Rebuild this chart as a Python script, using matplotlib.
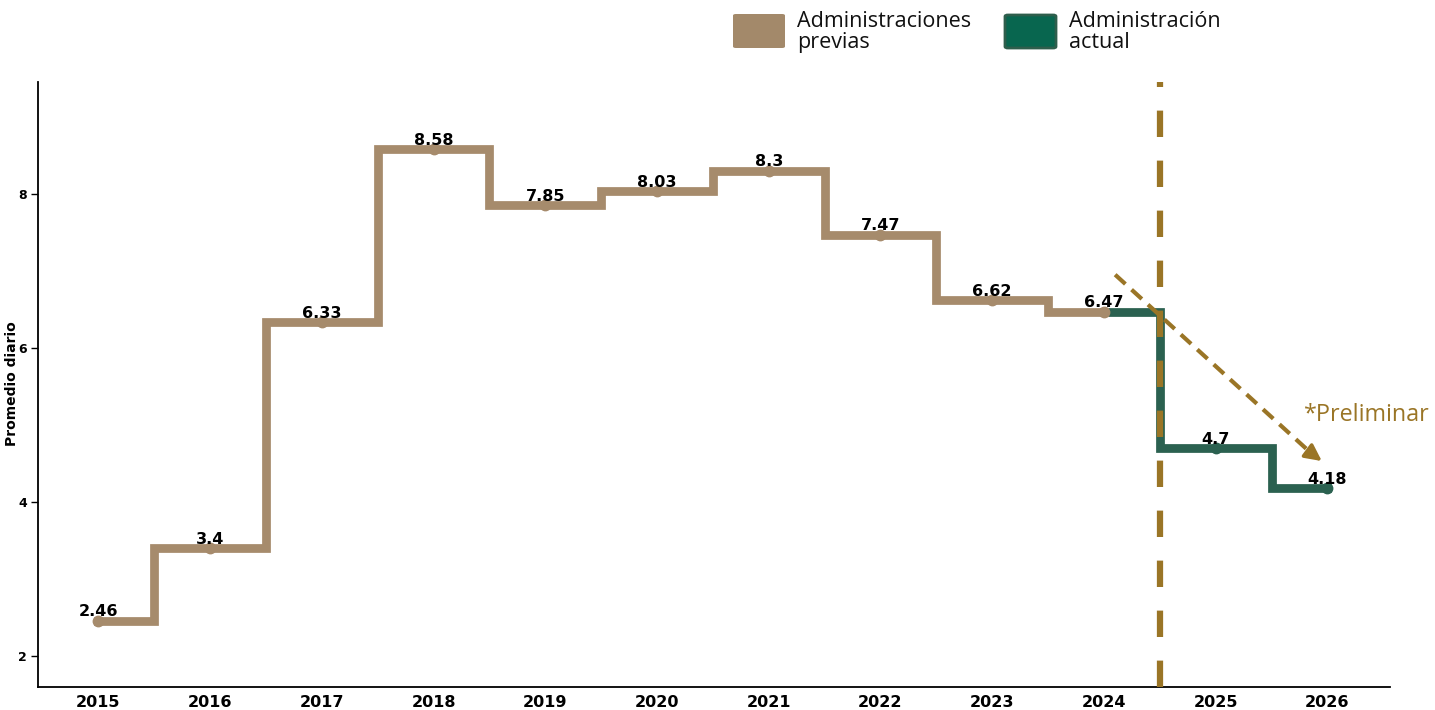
import matplotlib
matplotlib.use("Agg")
import matplotlib.pyplot as plt
from matplotlib.patches import FancyBboxPatch

plt.rcParams['lines.scale_dashes'] = False

years_prev = [2015, 2016, 2017, 2018, 2019, 2020, 2021, 2022, 2023, 2024]
vals_prev = [2.46, 3.4, 6.33, 8.58, 7.85, 8.03, 8.3, 7.47, 6.62, 6.47]
years_curr = [2024, 2025, 2026]
vals_curr = [6.47, 4.7, 4.18]
labels_curr = ["", "4.7", "4.18"]
yticks = [2, 4, 6, 8]

brown = "#A68B6C"
green = "#2B6150"
gold = "#9A7526"
legend_green = "#08664F"

fig = plt.figure(figsize=(14.35, 7.10), dpi=100)
fig.patch.set_facecolor("white")
ax = fig.add_axes([38/1435, 1 - 687/710, (1390-38)/1435, (687-82)/710])
ax.set_facecolor("none")

ax.step(years_curr, vals_curr, where="mid", color=green, lw=6.3, solid_joinstyle="miter", zorder=3)
ax.step(years_prev, vals_prev, where="mid", color=brown, lw=6.3, solid_joinstyle="miter", zorder=4)
ax.plot(years_prev, vals_prev, "o", color=brown, ms=7.5, zorder=5)
ax.plot(years_curr[1:], vals_curr[1:], "o", color=green, ms=7.5, zorder=5)

ax.axvline(2024.5, color=gold, lw=4.5, dashes=(19, 17), zorder=6)

lab_font = dict(fontsize=11.5, fontweight="bold", color="black", family="DejaVu Sans")
for x, v in zip(years_prev, vals_prev):
    ax.annotate(f"{v:g}", (x, v), xytext=(0, 1), textcoords="offset points",
                ha="center", va="bottom", zorder=7, **lab_font)
for x, v, l in zip(years_curr, vals_curr, labels_curr):
    if l:
        ax.annotate(l, (x, v), xytext=(0, 1), textcoords="offset points",
                    ha="center", va="bottom", zorder=7, **lab_font)

# trend arrow
ax.plot([2024.10, 2025.88], [6.95, 4.60], color=gold, lw=3.0, dashes=(10, 6), zorder=6)
ax.annotate("", xy=(2025.97, 4.51), xytext=(2025.83, 4.66),
            arrowprops=dict(arrowstyle="-|>,head_length=1.0,head_width=0.5", color=gold, lw=2.5),
            zorder=6)
fig.text(1304/1435, 1 - 415/710, "*Preliminar", color=gold, fontsize=16.8, family="Open Sans",
         ha="left", va="center", zorder=7)

ax.set_xlim(2014.46, 2026.56)
ax.set_ylim(1.6, 9.45)
ax.set_xticks(years_prev + years_curr[1:])
ax.set_xticklabels([str(y) for y in years_prev + years_curr[1:]], fontsize=11.5, fontweight="bold")
ax.set_yticks(yticks)
ax.set_yticklabels([str(t) for t in yticks], fontsize=9, fontweight="bold")
ax.tick_params(axis="x", length=0, pad=6)
ax.tick_params(axis="y", length=5, width=1, pad=3)
fig.text(12/1435, 1 - 384/710, "Promedio diario", fontsize=10, fontweight="bold",
         rotation=90, ha="center", va="center")
for s in ["top", "right"]:
    ax.spines[s].set_visible(False)
for s in ["left", "bottom"]:
    ax.spines[s].set_linewidth(1.3)

# legend
fig.patches.append(FancyBboxPatch((733/1435, 1 - 48/710), 52/1435, 34/710,
                                  boxstyle="round,pad=0,rounding_size=0.002",
                                  transform=fig.transFigure, facecolor="#A3896A", edgecolor="none"))
fig.patches.append(FancyBboxPatch((1005/1435, 1 - 48/710), 51/1435, 33/710,
                                  boxstyle="round,pad=0,rounding_size=0.002",
                                  transform=fig.transFigure, facecolor=legend_green,
                                  edgecolor="#2E5E4C", lw=2))
fig.text(797/1435, 1 - 32/710, "Administraciones\nprevias", fontsize=15.5, family="Open Sans",
         va="center", ha="left", linespacing=0.95, color="#111111")
fig.text(1069/1435, 1 - 32/710, "Administración\nactual", fontsize=15.5, family="Open Sans",
         va="center", ha="left", linespacing=0.95, color="#111111")

fig.savefig("out.png", dpi=100)
